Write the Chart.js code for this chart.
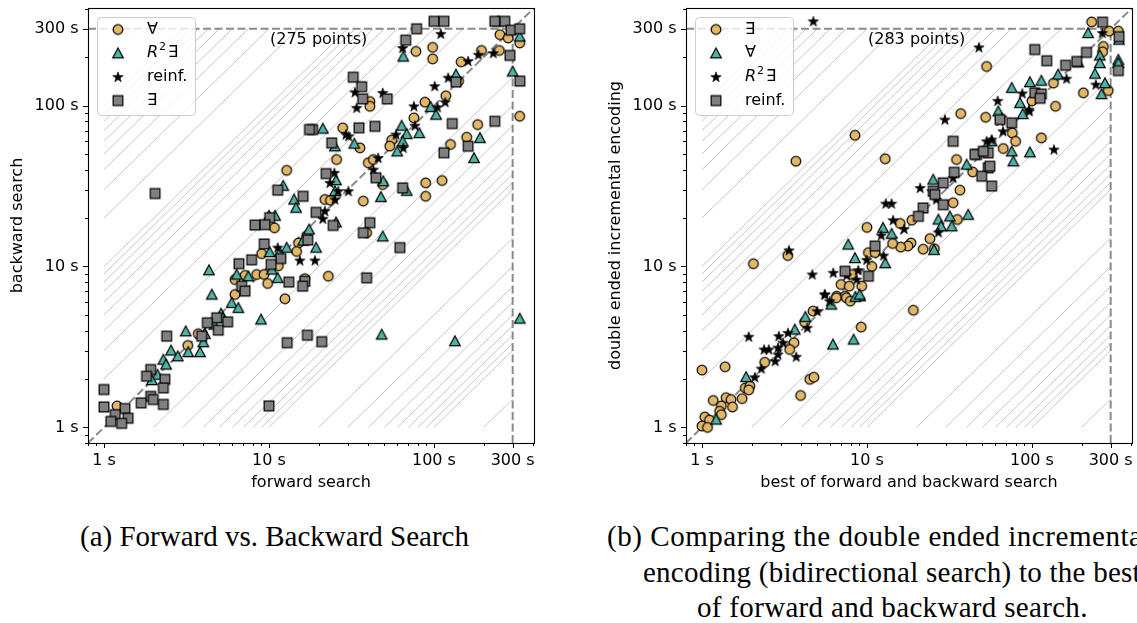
<!DOCTYPE html>
<html><head><meta charset="utf-8">
<script src="https://cdn.jsdelivr.net/npm/chart.js@4/dist/chart.umd.min.js"></script>
<style>
html,body{margin:0;padding:0;background:#fff;overflow:hidden;}
#wrap{position:relative;width:1137px;height:623px;overflow:hidden;background:#fff;}
canvas{position:absolute;top:0;}
.cap{position:absolute;font-family:"Liberation Serif","DejaVu Serif",serif;font-size:29px;line-height:36px;height:36px;color:#000;white-space:nowrap;}
</style></head><body>
<div id="wrap">
<canvas id="c1" width="560" height="500" style="left:0px"></canvas>
<canvas id="c2" width="539" height="500" style="left:598px"></canvas>
<div class="cap" style="left:80px;top:518px;">(a) Forward vs. Backward Search</div>
<div class="cap" style="left:607px;top:518px;letter-spacing:0.55px;">(b) Comparing the double ended incremental</div>
<div class="cap" style="left:643px;top:554px;letter-spacing:0.25px;">encoding (bidirectional search) to the best</div>
<div class="cap" style="left:697px;top:589px;letter-spacing:0.32px;">of forward and backward search.</div>
</div>
<script>
// ---------- axis / tick data ----------
const AXIS_MIN = 0.8, AXIS_MAX = 404, TIMEOUT = 300;
const TICK_VALUES = [1, 10, 100, 300];
const TICK_LABELS = ['1 s', '10 s', '100 s', '300 s'];
const MINOR_TICKS = [0.8, 0.9, 2, 3, 4, 5, 6, 7, 8, 9, 20, 30, 40, 50, 60, 70, 80, 90, 200, 400];
const HATCH_FACTORS = [2, 3, 4, 5, 6, 7, 8, 9, 10, 20, 30, 40, 50, 60, 70, 80, 90, 100, 200];

// ---------- (a) forward (x) vs backward (y), seconds ----------
const leftLabels = ['∀', 'R^2∃', 'reinf.', '∃'];
const leftForall = [[251,276],[282,263],[331,245],[77.8,217],[98.2,230],[98.2,195],[146,187],[194,220],[249,220],[331,85.9],[141,142],[118,115],[88.2,105],[75.6,83.9],[55.4,61],[54,56],[184,76.2],[158,63.6],[126,57.3],[28,72.7],[35.6,54.6],[40.9,106],[40.9,99],[25.7,46.2],[40,44.1],[42.9,46.2],[12.8,39.6],[48.9,32.3],[89.1,33.1],[112,34.2],[89.1,27.3],[21.8,26.1],[23.6,25.8],[37.3,25.5],[10.8,17.4],[39.1,16.2],[16.9,15.4],[15.1,14],[14.7,12.4],[9.03,12],[11.4,10.1],[6.22,8.3],[7.16,8.8],[8.42,8.92],[9.33,8.92],[9.82,7.84],[16.5,8.4],[22.9,8.7],[6.22,6.7],[12.5,6.3],[3.73,3.82],[3.22,3.23],[1.2,1.36]];
const leftR2E = [[245,334],[300,163],[331,269],[65.2,202],[136,156],[95.5,98.2],[103,87.9],[63.7,75.1],[68.4,66.7],[81.5,67.6],[64.6,60],[59.9,52],[190,63],[21.2,72],[25.1,55.9],[32.9,58.1],[175,47.3],[25.5,34.4],[25.1,29.4],[49.3,33.9],[68.4,29.6],[12.2,31.8],[14.2,26.1],[14.6,23.2],[47.7,27.1],[25.5,18.8],[48.9,15.4],[10,20.7],[10.9,20.7],[17.5,17],[16.1,14.5],[19.3,13.1],[10.1,12.3],[11.6,12.3],[12.8,13.1],[4.33,9.49],[6.37,8.92],[7.5,8.7],[10.4,9.58],[11.3,8.5],[4.5,6.7],[5.94,5.95],[6.52,5.54],[5.12,5.1],[5.24,4.8],[4.66,4.36],[3.13,3.96],[4.09,3.82],[4.0,3.39],[3.24,2.94],[3.82,2.94],[2.55,3.01],[2.8,2.77],[2.29,2.64],[2.38,2.46],[2.11,2.13],[1.95,1.97],[8.95,4.69],[48.2,3.78],[134,3.44],[331,4.75]];
const leftReinf = [[110,279],[64.6,228],[161,189],[186,207],[229,212],[122,149],[101,132],[117,105],[105,97.7],[75.6,99],[76.7,75.1],[58.9,66.1],[65.2,54.6],[33.2,121],[34,96.8],[48.9,120],[29.3,66.1],[30.4,64.5],[45.9,47.3],[42.9,40],[24.9,38.2],[23.4,33.1],[26.3,29.4],[30.3,29.4],[25.1,26.1],[21.8,22.1],[21.2,19.8],[11.3,13.1],[15.4,10.9],[19,10.9]];
const leftExists = [[100,334],[115,334],[78.5,300],[234,334],[269,334],[293,294],[331,300],[67.4,255],[289,205],[332,142],[136,140],[129,77.3],[234,79.9],[161,55.9],[115,50.9],[32.4,150],[36.5,131],[37,110],[52.1,110],[18.4,71],[17.6,71],[35.1,72.7],[43.9,74.3],[24,58.6],[22.2,37.8],[44.5,35.6],[64.6,30.8],[2.04,28.4],[11.3,29.8],[16.1,27.3],[19.3,21.7],[24.5,18],[40.9,18.7],[37.3,16.2],[62.2,13.1],[10.1,20.1],[8.23,18.1],[9.46,18.2],[17.2,14.6],[9.36,13.8],[11.8,11.2],[10.3,10.3],[6.58,10.4],[7.85,11],[13.2,8.0],[16.5,8.1],[16,7.55],[39.1,8.5],[6.83,7.55],[7.16,7.03],[4.82,4.8],[5.62,4.53],[4.23,4.47],[4.93,4.02],[3.91,3.69],[2.4,3.69],[1.92,2.29],[1.81,2.08],[2.34,1.99],[2.29,1.76],[1.92,1.56],[1.99,1.49],[1.68,1.42],[2.29,1.39],[1.0,1.72],[1.0,1.34],[1.34,1.31],[1.17,1.2],[1.4,1.14],[1.1,1.09],[1.28,1.06],[12.9,3.36],[17.1,3.74],[20.9,3.41],[10,1.36]];

// ---------- (b) best of fwd/bwd (x) vs double ended (y), seconds ----------
const rightLabels = ['∃', '∀', 'R^2∃', 'reinf.'];
const rightExists = [[53.1,175],[230,331],[294,290],[334,290],[271,233],[268,216],[290,124],[205,120],[135,138],[100,107],[139,99],[37,89.2],[52.4,84.6],[8.46,65.4],[76,67.6],[79.6,60],[114,63],[12.9,46.7],[67,54.1],[34.9,46.2],[50.7,52],[3.71,45.1],[2.05,10.4],[3.31,11.7],[10,17.5],[33.3,24.9],[36.6,29.8],[43.7,38.7],[35.3,19.6],[24.1,14.9],[21.9,12.8],[25.6,12.9],[18.7,19.4],[18.5,14],[17.7,13.4],[16,13.2],[14.3,13.9],[15.9,18.5],[10.2,12.2],[11.2,12.2],[10.7,10],[6.96,7.73],[7.81,7.55],[9.29,7.55],[6.55,6.54],[7.36,6.54],[8.08,8.92],[1.0,2.27],[1.38,2.38],[2.4,2.54],[1.83,1.76],[1.95,1.81],[1.92,1.71],[1.75,1.51],[1.17,1.47],[1.4,1.53],[1.5,1.49],[1.53,1.34],[1.31,1.36],[1.28,1.26],[1.31,1.2],[1.04,1.16],[1.11,1.11],[1.0,1.02],[1.08,1.0],[3.96,1.58],[4.5,1.99],[4.77,2.05],[9.23,4.2],[4.19,4.51],[3.61,3.36],[3.4,3.05],[4.71,5.28],[6.52,6.39],[7.5,6.39],[7.92,6.09],[19.1,5.35]];
const rightForall = [[219,283],[337,257],[258,205],[258,184],[334,193],[334,184],[241,158],[277,138],[264,118],[191,186],[97.2,140],[114,143],[144,156],[75.4,129],[62.5,92.2],[84.6,104],[87.9,88.8],[57,60],[75.4,52],[77.1,45.1],[97.2,51.3],[25.2,34.7],[40.2,43],[41.1,21],[31.8,20.5],[27.1,19.6],[28.1,17.8],[32.6,17.8],[25.5,12.7],[12.5,17.4],[14.1,16],[7.7,13.7],[8.46,11.3],[12.9,10.5],[9.07,6.54],[6.22,3.28],[8.3,3.52],[8.5,6.48],[9.03,6.7],[6.08,5.81],[3.65,4.06],[4.23,4.87],[1.85,2.06],[1.22,1.12]];
const rightR2E = [[4.73,334],[47.7,230],[267,283],[244,135],[162,147],[87.4,119],[62,107],[95.9,94.4],[29.7,81.8],[64,80.2],[66.7,69.2],[65.8,84.2],[96.3,92.2],[136,53.3],[53.1,60],[57,61.5],[21,30.8],[13,24.6],[14.1,24.6],[33.3,35.6],[24.7,29.4],[26.4,26.1],[27.1,16.3],[14.4,19.4],[16.8,17.1],[12.2,15.6],[9.96,11],[12.6,11.7],[3.37,12.6],[4.66,8.92],[6.25,9.14],[8.86,9.49],[7.53,8.8],[8.66,8.3],[5.56,6.7],[1.92,3.66],[2.38,3.05],[2.54,3.05],[2.92,3.69],[3.32,3.87],[3.1,3.36],[2.78,2.58],[2.89,2.84],[2.89,3.13],[2.29,2.32],[2.09,2.05],[3.73,2.75],[4.35,4.16],[5.0,5.28],[5.54,6.7],[5.94,6.09]];
const rightReinf = [[268,330],[337,268],[334,165],[104,223],[123,190],[160,178],[187,188],[214,214],[104,120],[114,118],[112,111],[64,81.8],[75.4,78.1],[33.3,60],[29,33.1],[25.2,29.4],[25.8,28],[29,24.2],[46.2,49.7],[54.3,50.8],[54.3,41],[49.6,36.4],[57,31.6],[33.8,38.5],[55.6,42],[45.1,49.7],[50.7,52],[21.9,23.1],[20.5,20.5],[11.2,13.4],[7.36,9.35],[10.2,8.7]];

// ---------- styling ----------
const GOLD = '#E2B868', TEAL = '#4EB3A6', GRAY = '#808080';
const FONT = '"DejaVu Sans"';
Chart.defaults.font.family = FONT;
Chart.defaults.color = '#000';

function markerCanvas(kind) {
  const S = 18, m = S / 2;
  const c = document.createElement('canvas'); c.width = S; c.height = S;
  const g = c.getContext('2d');
  g.lineWidth = 1.2; g.strokeStyle = '#000'; g.lineJoin = 'miter';
  g.beginPath();
  if (kind === 'circle') { g.arc(m, m, 4.85, 0, 2 * Math.PI); g.fillStyle = GOLD; }
  else if (kind === 'triangle') { g.moveTo(m, m - 5.3); g.lineTo(m + 5.3, m + 4.6); g.lineTo(m - 5.3, m + 4.6); g.closePath(); g.fillStyle = TEAL; }
  else if (kind === 'square') { g.rect(m - 4.85, m - 4.85, 9.7, 9.7); g.fillStyle = GRAY; }
  else {
    for (let i = 0; i < 10; i++) {
      const r = i % 2 ? 2.2 : 5.5, a = -Math.PI / 2 + i * Math.PI / 5;
      g.lineTo(m + r * Math.cos(a), m + 0.4 + r * Math.sin(a));
    }
    g.closePath(); g.fillStyle = '#000'; g.lineWidth = 0.6;
  }
  g.fill(); g.stroke();
  return c;
}
const MARK = { circle: markerCanvas('circle'), triangle: markerCanvas('triangle'), star: markerCanvas('star'), square: markerCanvas('square') };
const ORDERED_MARKERS = ['circle', 'triangle', 'star', 'square'];

function refLine(pts, style, order) {
  return Object.assign({ data: pts.map(([x, y]) => ({ x, y })), showLine: true, pointRadius: 0, fill: false, tension: 0, order }, style);
}
const HATCH = { borderColor: '#c6c6c6', borderWidth: 1 };
const DASH = { borderColor: '#8a8a8a', borderWidth: 2, borderDash: [8, 3.5] };

function drawLabel(ctx, text, x, y) {
  if (text.indexOf('^') >= 0) {
    const [base, rest] = text.split('^');
    ctx.font = 'italic 16px ' + FONT; ctx.fillText(base, x, y);
    let w = ctx.measureText(base).width;
    ctx.font = '11px ' + FONT; ctx.fillText(rest[0], x + w + 1, y - 6);
    w += ctx.measureText(rest[0]).width + 3;
    ctx.font = '16px ' + FONT; ctx.fillText(rest.slice(1), x + w, y);
  } else {
    ctx.font = '16px ' + FONT; ctx.fillText(text, x, y);
  }
}

const decor = {
  id: 'decor',
  afterDraw(chart, args, o) {
    const { ctx, chartArea: a, scales: { x, y } } = chart;
    ctx.save();
    ctx.strokeStyle = '#000'; ctx.lineWidth = 1;
    const all = TICK_VALUES.map(v => [v, 5]).concat(MINOR_TICKS.map(v => [v, 3]));
    ctx.beginPath();
    for (const [v, len] of all) {
      const px = Math.round(x.getPixelForValue(v)) + 0.5;
      ctx.moveTo(px, a.bottom); ctx.lineTo(px, a.bottom + len);
      const py = Math.round(y.getPixelForValue(v)) + 0.5;
      ctx.moveTo(a.left, py); ctx.lineTo(a.left - len, py);
    }
    ctx.stroke();
    ctx.lineWidth = 1.1;
    ctx.strokeRect(Math.round(a.left) + 0.5, Math.round(a.top) + 0.5, Math.round(a.right - a.left), Math.round(a.bottom - a.top));
    ctx.fillStyle = '#000'; ctx.textAlign = 'center'; ctx.textBaseline = 'middle';
    ctx.font = '16px ' + FONT;
    ctx.fillText(o.note, x.getPixelForValue(20), y.getPixelForValue(257));
    const bx = a.left + 9, by = a.top + 9, bw = 98, bh = 98;
    ctx.beginPath();
    if (ctx.roundRect) ctx.roundRect(bx + 0.5, by + 0.5, bw, bh, 4); else ctx.rect(bx + 0.5, by + 0.5, bw, bh);
    ctx.fillStyle = 'rgba(255,255,255,0.8)'; ctx.fill();
    ctx.strokeStyle = '#cccccc'; ctx.lineWidth = 1; ctx.stroke();
    ctx.textAlign = 'left'; ctx.fillStyle = '#000';
    o.labels.forEach((lab, i) => {
      const ry = a.top + 21.5 + i * 23.7;
      const img = MARK[ORDERED_MARKERS[i]];
      ctx.drawImage(img, a.left + 30 - img.width / 2, ry - img.height / 2);
      drawLabel(ctx, lab, a.left + 59, ry);
    });
    ctx.restore();
  }
};

function build(id, series, labels, xTitle, yTitle, padRight, note) {
  const datasets = [];
  HATCH_FACTORS.forEach(k => {
    datasets.push(refLine([[k, 1], [TIMEOUT, TIMEOUT / k]], HATCH, 12));
    datasets.push(refLine([[1, k], [TIMEOUT / k, TIMEOUT]], HATCH, 12));
  });
  datasets.push(refLine([[AXIS_MIN, AXIS_MIN], [AXIS_MAX, AXIS_MAX]], DASH, 11));
  datasets.push(refLine([[AXIS_MIN, TIMEOUT], [TIMEOUT, TIMEOUT]], DASH, 11));
  datasets.push(refLine([[TIMEOUT, AXIS_MIN], [TIMEOUT, TIMEOUT]], DASH, 11));
  series.forEach((s, i) => datasets.push({
    label: labels[i], data: s.map(([x, y]) => ({ x, y })),
    pointStyle: MARK[ORDERED_MARKERS[i]], pointRadius: 5, showLine: false, order: 4 - i
  }));
  const tickFont = { family: FONT, size: 16 };
  const fmt = v => { const i = TICK_VALUES.indexOf(v); return i >= 0 ? TICK_LABELS[i] : ''; };
  const setTicks = s => { s.ticks = TICK_VALUES.map(v => ({ value: v })); };
  return new Chart(document.getElementById(id), {
    type: 'scatter',
    data: { datasets },
    options: {
      responsive: false, animation: false, events: [],
      layout: { padding: { left: 0, right: padRight, top: 8, bottom: 0 }, autoPadding: false },
      plugins: { legend: { display: false }, tooltip: { enabled: false }, decor: { note, labels } },
      scales: {
        x: {
          type: 'logarithmic', min: AXIS_MIN, max: AXIS_MAX, position: 'bottom',
          grid: { display: false, drawTicks: false }, border: { display: false },
          ticks: { autoSkip: false, maxRotation: 0, padding: 8.4, color: '#000', font: tickFont, callback: fmt },
          afterBuildTicks: setTicks,
          afterFit: s => { s.height = 57; s.paddingLeft = 0; s.paddingRight = 0; },
          title: { display: true, text: xTitle, color: '#000', font: tickFont, padding: { top: 0, bottom: 7.4 } }
        },
        y: {
          type: 'logarithmic', min: AXIS_MIN, max: AXIS_MAX, position: 'left',
          grid: { display: false, drawTicks: false }, border: { display: false },
          ticks: { autoSkip: false, padding: 9.5, color: '#000', font: tickFont, callback: fmt },
          afterBuildTicks: setTicks,
          afterFit: s => { s.width = 88; s.paddingTop = 0; s.paddingBottom = 0; },
          title: { display: true, text: yTitle, color: '#000', font: tickFont, padding: { top: 8.4, bottom: 0 } }
        }
      }
    },
    plugins: [decor]
  });
}

build('c1', [leftForall, leftR2E, leftReinf, leftExists], leftLabels, 'forward search', 'backward search', 26, '(275 points)');
build('c2', [rightExists, rightForall, rightR2E, rightReinf], rightLabels, 'best of forward and backward search', 'double ended incremental encoding', 5, '(283 points)');
</script>
</body></html>
